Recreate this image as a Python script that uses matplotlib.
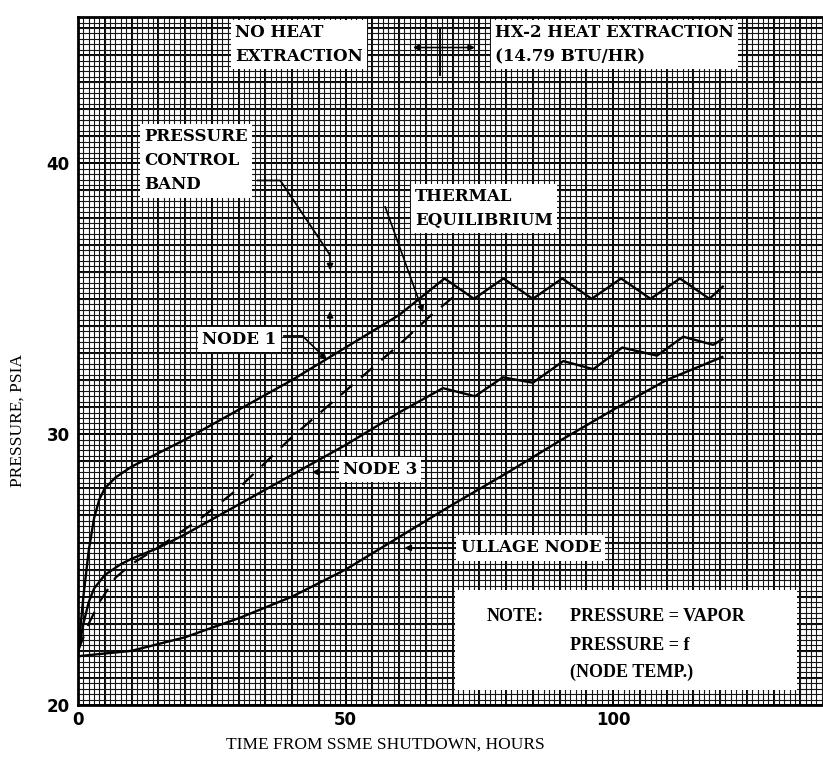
import matplotlib.pyplot as plt
import numpy as np
from matplotlib.ticker import MultipleLocator
from matplotlib.patches import Rectangle

# pressure history
node1_t = [0, 1, 2, 3, 4, 5, 7, 10, 20, 30, 40, 50, 60, 68.5,
           74, 79.5, 85, 90.5, 96, 101.5, 107, 112.5, 118, 120.5]
node1_p = [21.9, 24.0, 25.7, 26.9, 27.6, 28.0, 28.4, 28.8, 29.8, 30.9, 32.0, 33.2, 34.4, 35.75,
           35.0, 35.75, 35.0, 35.75, 35.0, 35.75, 35.0, 35.75, 35.0, 35.45]

equil_t = [0, 2, 4, 7, 10, 16, 23, 30, 40, 50, 60, 66, 71]
equil_p = [22.0, 23.0, 23.8, 24.7, 25.2, 25.95, 26.9, 28.0, 29.9, 31.6, 33.3, 34.4, 35.2]

node3_t = [0, 1, 2, 3, 5, 8, 10, 15, 20, 30, 40, 50, 60, 68.2,
           74.2, 79.4, 85.0, 90.7, 96.3, 101.7, 108.2, 113.1, 118.7, 120.4]
node3_p = [21.9, 23.0, 23.8, 24.3, 24.8, 25.2, 25.4, 25.8, 26.3, 27.4, 28.5, 29.6, 30.8, 31.7,
           31.4, 32.1, 31.9, 32.7, 32.4, 33.2, 32.9, 33.6, 33.3, 33.5]

ullage_t = [0, 10, 20, 30, 40, 50, 60, 70, 80, 90, 100, 110, 120.4]
ullage_p = [21.8, 22.0, 22.5, 23.2, 24.0, 25.0, 26.2, 27.4, 28.55, 29.75, 30.9, 32.0, 32.85]

x_ticks = [0, 50, 100]
y_ticks = [20, 30, 40]

fig = plt.figure(figsize=(8.23, 7.6), dpi=100)
ax = fig.add_axes([0.0948, 0.0724, 0.905, 0.905])
ax.set_xlim(0, 139.2)
ax.set_ylim(20, 45.4)

# graph paper: fine lines every 1 h / 0.2 psia, heavy every 5 h / 1 psia
ax.xaxis.set_minor_locator(MultipleLocator(1))
ax.yaxis.set_minor_locator(MultipleLocator(0.2))
ax.grid(which='minor', color='#151515', lw=0.8)
ax.set_axisbelow(True)
for xv in np.arange(0, 140, 5):
    ax.axvline(xv, color='black', lw=1.4, zorder=0.5)
for yv in np.arange(20, 46, 1):
    ax.axhline(yv, color='black', lw=1.4, zorder=0.5)
ax.tick_params(which='both', length=0)
ax.set_xticks(x_ticks)
ax.set_yticks(y_ticks)
for s in ax.spines.values():
    s.set_linewidth(2)
ax.spines['right'].set_visible(False)

tick_font = dict(family='DejaVu Sans', weight='bold', size=12)
ax.set_xticklabels([str(v) for v in x_ticks], **tick_font)
ax.set_yticklabels([str(v) for v in y_ticks], **tick_font)
ax.tick_params(axis='x', pad=4)
ax.tick_params(axis='y', pad=6)

ax.plot(node1_t, node1_p, color='black', lw=1.7, zorder=3)
ax.plot(equil_t, equil_p, color='black', lw=1.6, dashes=[7, 5], zorder=3)
ax.plot(node3_t, node3_p, color='black', lw=1.7, zorder=3)
ax.plot(ullage_t, ullage_p, color='black', lw=1.7, zorder=3)

lab = dict(family='DejaVu Serif', weight='bold', size=12, color='black', zorder=5,
           linespacing=1.55)
wbox = dict(boxstyle='square,pad=0.25', fc='white', ec='none')

ax.text(29.3, 45.15, 'NO HEAT\nEXTRACTION', va='top', ha='left', bbox=wbox, **lab)
ax.text(78.0, 45.15, 'HX-2 HEAT EXTRACTION\n(14.79 BTU/HR)', va='top', ha='left',
        bbox=wbox, **lab)
ax.text(12.3, 41.3, 'PRESSURE\nCONTROL\nBAND', va='top', ha='left', bbox=wbox, **lab)
ax.text(63.0, 39.1, 'THERMAL\nEQUILIBRIUM', va='top', ha='left', bbox=wbox, **lab)
ax.text(23.2, 33.5, 'NODE 1', va='center', ha='left', bbox=wbox, **lab)
ax.text(49.5, 28.7, 'NODE 3', va='center', ha='left', bbox=wbox, **lab)
ax.text(71.5, 25.8, 'ULLAGE NODE', va='center', ha='left', bbox=wbox, **lab)

arrow = dict(arrowstyle='-|>', color='black', lw=1.2, mutation_scale=9, shrinkA=0, shrinkB=0)

# extraction marker: vertical divider with arrows both ways
ax.plot([67.7, 67.7], [43.25, 44.95], color='black', lw=1.4, zorder=4)
ax.annotate('', xy=(62.6, 44.28), xytext=(67.7, 44.28), arrowprops=arrow, zorder=4)
ax.annotate('', xy=(74.2, 44.28), xytext=(67.7, 44.28), arrowprops=arrow, zorder=4)

# pressure control band leaders
ax.plot([33.6, 37.8, 46.5, 47.1], [39.37, 39.37, 36.8, 36.6], color='black', lw=1.3, zorder=4)
ax.annotate('', xy=(47.1, 36.05), xytext=(47.1, 36.7), arrowprops=arrow, zorder=4)
ax.annotate('', xy=(47.1, 34.55), xytext=(47.1, 33.9), arrowprops=arrow, zorder=4)

# thermal equilibrium leader
ax.annotate('', xy=(64.5, 34.5), xytext=(57.4, 38.4), arrowprops=arrow, zorder=4)

# node leaders
ax.plot([38.5, 42.0], [33.62, 33.62], color='black', lw=1.3, zorder=4)
ax.annotate('', xy=(46.5, 32.75), xytext=(42.0, 33.62), arrowprops=arrow, zorder=4)
ax.annotate('', xy=(43.7, 28.6), xytext=(49.0, 28.6), arrowprops=arrow, zorder=4)
ax.annotate('', xy=(61.0, 25.8), xytext=(70.8, 25.8), arrowprops=arrow, zorder=4)

# note box
ax.add_patch(Rectangle((70.5, 20.55), 63.9, 3.7, fc='white', ec='none', zorder=4))
note = dict(family='Liberation Serif', weight='bold', size=13, color='black', zorder=5,
            va='center')
ax.text(76.4, 23.25, 'NOTE:', ha='left', **note)
ax.text(92.0, 23.25, 'PRESSURE = VAPOR', ha='left', **note)
ax.text(92.0, 22.21, 'PRESSURE = f', ha='left', **note)
ax.text(92.0, 21.22, '(NODE TEMP.)', ha='left', **note)

fig.text(385 / 823, 1 - 745 / 760, 'TIME FROM SSME SHUTDOWN, HOURS', ha='center', va='center',
         family='Liberation Serif', size=12.5)
fig.text(18 / 823, 1 - 420 / 760, 'PRESSURE, PSIA', ha='center', va='center', rotation=90,
         family='Liberation Serif', size=12.5)

fig.savefig('out.png', dpi=100)
